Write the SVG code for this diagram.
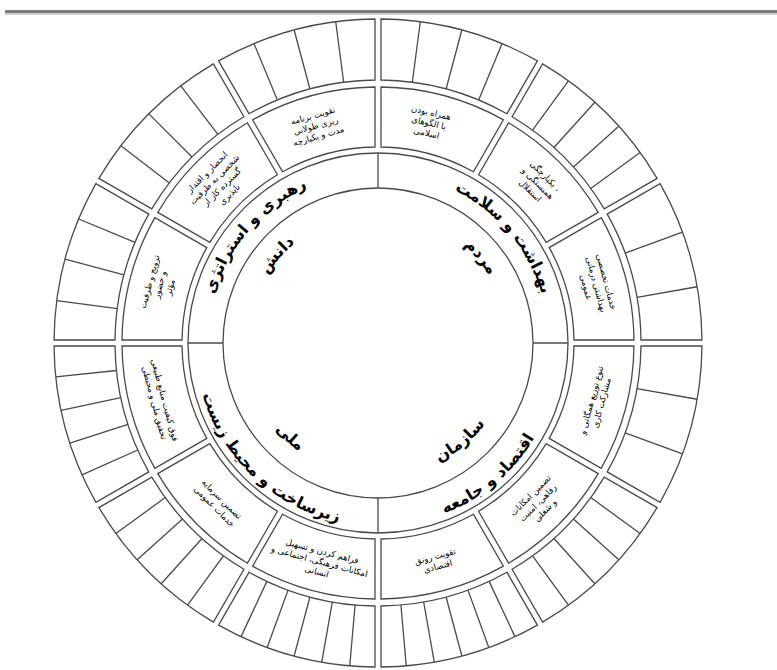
<svg xmlns="http://www.w3.org/2000/svg" xmlns:xlink="http://www.w3.org/1999/xlink" width="777" height="670" viewBox="0 0 777 670">
<style>
.ln{fill:none;stroke:#4a4a4a;stroke-width:1.3}
.ct{font-family:"DejaVu Sans",sans-serif;font-size:8.5px;fill:#000;text-anchor:middle}
.tl{font-family:"DejaVu Sans",sans-serif;font-size:16px;font-weight:bold;fill:#000}
</style>
<defs>
<path id="cellShape" class="ln" d="M223.19,-125.39 A256,256 0 0,1 255.98,-3 L195.98,-3 A196,196 0 0,0 171.22,-95.39 Z"/>
<path id="outerShape" class="ln" d="M282.08,-159.40 A324,324 0 0,1 323.99,-3 L262.98,-3 A263,263 0 0,0 229.25,-128.89 Z"/>
<line id="rd" class="ln" x1="263" y1="0" x2="324" y2="0"/>
<path id="top171" d="M-171,0 A171,171 0 0,1 171,0"/>
<path id="top130" d="M-130,0 A130,130 0 0,1 130,0"/>
<path id="bot183" d="M-183,0 A183,183 0 0,0 183,0"/>
<path id="bot134" d="M-134,0 A134,134 0 0,0 134,0"/>
</defs>
<g id="frame">
<rect x="5" y="10" width="772" height="3" fill="#7c7c7c"/>
<rect x="5" y="13" width="772" height="2" fill="#cfcfcf"/>
</g>
<g transform="translate(378,343)">
<g id="title-ring">
<circle class="ln" r="155"/>
<circle class="ln" r="190"/>
<line class="ln" x1="155" y1="0" x2="190" y2="0"/>
<line class="ln" x1="-155" y1="0" x2="-190" y2="0"/>
<line class="ln" x1="0" y1="155" x2="0" y2="190"/>
<line class="ln" x1="0" y1="-155" x2="0" y2="-190"/>
</g>
<g id="outer-ring">
<g id="outer-tr3"><use href="#outerShape"/><use href="#rd" transform="rotate(-10)"/><use href="#rd" transform="rotate(-20)"/></g>
<g id="outer-tr2"><use href="#outerShape" transform="rotate(-30)"/><use href="#rd" transform="rotate(-36)"/><use href="#rd" transform="rotate(-42)"/><use href="#rd" transform="rotate(-48)"/><use href="#rd" transform="rotate(-54)"/></g>
<g id="outer-tr1"><use href="#outerShape" transform="rotate(-60)"/><use href="#rd" transform="rotate(-67.5)"/><use href="#rd" transform="rotate(-75)"/><use href="#rd" transform="rotate(-82.5)"/></g>
<g id="outer-tl1"><use href="#outerShape" transform="rotate(-90)"/><use href="#rd" transform="rotate(-97.5)"/><use href="#rd" transform="rotate(-105)"/><use href="#rd" transform="rotate(-112.5)"/></g>
<g id="outer-tl2"><use href="#outerShape" transform="rotate(-120)"/><use href="#rd" transform="rotate(-127.5)"/><use href="#rd" transform="rotate(-135)"/><use href="#rd" transform="rotate(-142.5)"/></g>
<g id="outer-tl3"><use href="#outerShape" transform="rotate(-150)"/><use href="#rd" transform="rotate(-157.5)"/><use href="#rd" transform="rotate(-165)"/><use href="#rd" transform="rotate(-172.5)"/></g>
<g id="outer-bl3"><use href="#outerShape" transform="rotate(-180)"/><use href="#rd" transform="rotate(-186)"/><use href="#rd" transform="rotate(-192)"/><use href="#rd" transform="rotate(-198)"/><use href="#rd" transform="rotate(-204)"/></g>
<g id="outer-bl2"><use href="#outerShape" transform="rotate(-210)"/><use href="#rd" transform="rotate(-216)"/><use href="#rd" transform="rotate(-222)"/><use href="#rd" transform="rotate(-228)"/><use href="#rd" transform="rotate(-234)"/></g>
<g id="outer-bl1"><use href="#outerShape" transform="rotate(-240)"/><use href="#rd" transform="rotate(-245)"/><use href="#rd" transform="rotate(-250)"/><use href="#rd" transform="rotate(-255)"/><use href="#rd" transform="rotate(-260)"/><use href="#rd" transform="rotate(-265)"/></g>
<g id="outer-br3"><use href="#outerShape" transform="rotate(-270)"/><use href="#rd" transform="rotate(-275)"/><use href="#rd" transform="rotate(-280)"/><use href="#rd" transform="rotate(-285)"/><use href="#rd" transform="rotate(-290)"/><use href="#rd" transform="rotate(-295)"/></g>
<g id="outer-br2"><use href="#outerShape" transform="rotate(-300)"/><use href="#rd" transform="rotate(-306)"/><use href="#rd" transform="rotate(-312)"/><use href="#rd" transform="rotate(-318)"/><use href="#rd" transform="rotate(-324)"/></g>
<g id="outer-br1"><use href="#outerShape" transform="rotate(-330)"/><use href="#rd" transform="rotate(-340)"/><use href="#rd" transform="rotate(-350)"/></g>
</g>
<g id="cell-tr3"><use href="#cellShape"/>
<text class="ct" transform="rotate(-15) translate(226,0) rotate(90)"><tspan x="0" y="-7.5">خدمات تخصصی</tspan><tspan x="0" y="3">بهداشتی درمانی</tspan><tspan x="0" y="13.5">عمومی</tspan></text></g>
<g id="cell-tr2"><use href="#cellShape" transform="rotate(-30)"/>
<text class="ct" transform="rotate(-45) translate(226,0) rotate(90)"><tspan x="0" y="-7.5">یکپارچگی ،</tspan><tspan x="0" y="3">همبستگی و</tspan><tspan x="0" y="13.5">استقلال</tspan></text></g>
<g id="cell-tr1"><use href="#cellShape" transform="rotate(-60)"/>
<text class="ct" transform="rotate(-77) translate(226,0) rotate(90)"><tspan x="0" y="-7.5">همراه بودن</tspan><tspan x="0" y="3">با الگوهای</tspan><tspan x="0" y="13.5">اسلامی</tspan></text></g>
<g id="cell-tl1"><use href="#cellShape" transform="rotate(-90)"/>
<text class="ct" transform="rotate(-106) translate(226,0) rotate(90)"><tspan x="0" y="-7.5">تقویت برنامه</tspan><tspan x="0" y="3">ریزی طولانی</tspan><tspan x="0" y="13.5">مدت و یکپارچه</tspan></text></g>
<g id="cell-tl2"><use href="#cellShape" transform="rotate(-120)"/>
<text class="ct" transform="rotate(-135) translate(226,0) rotate(90)"><tspan x="0" y="-12.75">انحصار و اقتدار</tspan><tspan x="0" y="-2.25">شخصی به ظرفیت</tspan><tspan x="0" y="8.25">گسترده کار از</tspan><tspan x="0" y="18.75">ناپذیری</tspan></text></g>
<g id="cell-tl3"><use href="#cellShape" transform="rotate(-150)"/>
<text class="ct" transform="rotate(-165) translate(226,0) rotate(90)"><tspan x="0" y="-7.5">ترویج و ظرفیت</tspan><tspan x="0" y="3">و حضور</tspan><tspan x="0" y="13.5">مؤثر</tspan></text></g>
<g id="cell-bl3"><use href="#cellShape" transform="rotate(-180)"/>
<text class="ct" transform="rotate(165) translate(226,0) rotate(-90)"><tspan x="0" y="-2.25">فوق کیفیت منابع طبیعی</tspan><tspan x="0" y="8.25">تحقیق ملی و محیطی</tspan></text></g>
<g id="cell-bl2"><use href="#cellShape" transform="rotate(-210)"/>
<text class="ct" transform="rotate(135) translate(226,0) rotate(-90)"><tspan x="0" y="-2.25">تضمین سرمایه</tspan><tspan x="0" y="8.25">خدمات عمومی</tspan></text></g>
<g id="cell-bl1"><use href="#cellShape" transform="rotate(-240)"/>
<text class="ct" transform="rotate(105) translate(226,0) rotate(-90)"><tspan x="0" y="-7.5">فراهم کردن و تسهیل</tspan><tspan x="0" y="3">امکانات فرهنگی، اجتماعی و</tspan><tspan x="0" y="13.5">انسانی</tspan></text></g>
<g id="cell-br3"><use href="#cellShape" transform="rotate(-270)"/>
<text class="ct" transform="rotate(75) translate(226,0) rotate(-90)"><tspan x="0" y="-2.25">تقویت رونق</tspan><tspan x="0" y="8.25">اقتصادی</tspan></text></g>
<g id="cell-br2"><use href="#cellShape" transform="rotate(-300)"/>
<text class="ct" transform="rotate(45) translate(226,0) rotate(-90)"><tspan x="0" y="-7.5">تضمین امکانات</tspan><tspan x="0" y="3">رفاهی، امنیت</tspan><tspan x="0" y="13.5">و شغلی</tspan></text></g>
<g id="cell-br1"><use href="#cellShape" transform="rotate(-330)"/>
<text class="ct" transform="rotate(15) translate(226,0) rotate(-90)"><tspan x="0" y="-2.25">تنوع توزیع همگانی و</tspan><tspan x="0" y="8.25">مشارکت کاری</tspan></text></g>
<g id="label-tr" transform="rotate(50)">
<text class="tl"><textPath href="#top171" startOffset="50%" text-anchor="middle">بهداشت و سلامت</textPath></text>
<text class="tl"><textPath href="#top130" startOffset="50%" text-anchor="middle">مردم</textPath></text>
</g>
<g id="label-tl" transform="rotate(-49)">
<text class="tl"><textPath href="#top171" startOffset="50%" text-anchor="middle">رهبری و استراتژی</textPath></text>
<text class="tl"><textPath href="#top130" startOffset="50%" text-anchor="middle">دانش</textPath></text>
</g>
<g id="label-br" transform="rotate(-40)">
<text class="tl"><textPath href="#bot134" startOffset="50%" text-anchor="middle">سازمان</textPath></text>
<text class="tl"><textPath href="#bot183" startOffset="50%" text-anchor="middle">اقتصاد و جامعه</textPath></text>
</g>
<g id="label-bl" transform="rotate(43)">
<text class="tl"><textPath href="#bot134" startOffset="50%" text-anchor="middle">ملی</textPath></text>
<text class="tl"><textPath href="#bot183" startOffset="50%" text-anchor="middle">زیرساخت و محیط زیست</textPath></text>
</g>
</g>
</svg>
